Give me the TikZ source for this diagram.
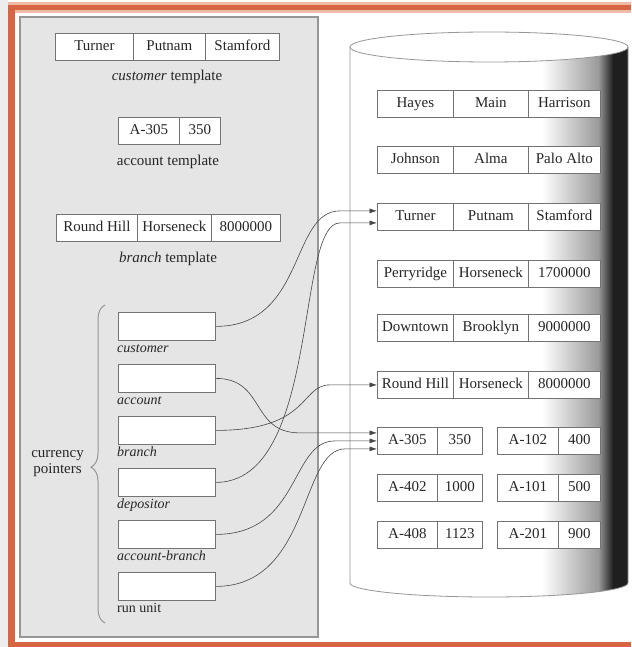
\documentclass[tikz,border=0pt]{standalone}
\usepackage{fontspec}
\setmainfont{Liberation Serif}
\usetikzlibrary{arrows.meta,calc,decorations.pathreplacing}
\definecolor{frameorange}{RGB}{214,102,66}
\definecolor{paleorange}{RGB}{238,185,165}
\definecolor{panelfill}{RGB}{229,229,229}
\definecolor{panelline}{RGB}{150,150,150}
\definecolor{cellline}{RGB}{115,115,115}
\definecolor{conncol}{RGB}{70,70,70}
\begin{document}
\begin{tikzpicture}[x=1pt,y=-1pt,
  cell/.style={draw=cellline, line width=0.8pt, fill=white, minimum height=27pt,
    inner sep=0pt, anchor=north west, text=black!85, text height=10pt, text depth=3pt,
    font=\fontsize{15}{17}\selectfont},
  ptr/.style={draw=cellline, line width=0.8pt, fill=white, minimum width=97pt,
    minimum height=28pt, inner sep=0pt, anchor=north west},
  lbl/.style={inner sep=0pt, text=black!85, text height=10pt, text depth=3pt,
    font=\fontsize{15}{17}\selectfont},
  plbl/.style={inner sep=0pt, anchor=base west, text=black!85,
    font=\fontsize{14}{16}\selectfont\itshape},
  conn/.style={draw=conncol, line width=0.6pt, -{Latex[length=7.5pt,width=5pt]}}]
\useasboundingbox (0,0) rectangle (631,647);
% background and frame
\fill[white] (0,0) rectangle (631,647);
\fill[black!7] (0,0) rectangle (8,647);
\fill[paleorange] (8,2) rectangle (631,13);
\fill[frameorange] (8,5) rectangle (631,10.5);
\fill[frameorange] (8,5) rectangle (15,647);
\fill[frameorange] (8,642) rectangle (631,647);
% left panel
\draw[panelline, line width=1.5pt, fill=panelfill] (20,17) rectangle (318,637);
% cylinder
\begin{scope}
  \clip (350,47) -- (350,583) .. controls (350,590.7) and (412.2,597) .. (489,597)
        .. controls (565.8,597) and (628,590.7) .. (628,583) -- (628,47) -- cycle;
  \fill[white] (340,30) rectangle (640,610);
  \shade[left color=white, right color=black!40] (542,30) rectangle (599,610);
  \shade[left color=black!40, right color=black!88] (598.5,30) rectangle (613,610);
  \fill[black!88] (612.5,30) rectangle (640,610);
\end{scope}
\draw[panelline, line width=0.8pt] (350,47) -- (350,583) .. controls (350,590.7) and (412.2,597) .. (489,597)
        .. controls (565.8,597) and (628,590.7) .. (628,583) -- (628,47);
\draw[panelline, line width=0.8pt, fill=white] (489,47) ellipse [x radius=139, y radius=15];
% templates
\node[cell, minimum width=78pt] (tc1) at (55,33) {Turner};
\node[cell, minimum width=72pt] (tc2) at (133,33) {Putnam};
\node[cell, minimum width=74pt] (tc3) at (205,33) {Stamford};
\node[lbl] (tcl) at (167,77) {\textit{customer} template};
\node[cell, minimum width=61pt] (ta1) at (118,117) {A-305};
\node[cell, minimum width=41pt] (ta2) at (179,117) {350};
\node[lbl] (tal) at (168,162) {account template};
\node[cell, minimum width=81pt] (tb1) at (56,214) {Round Hill};
\node[cell, minimum width=74pt] (tb2) at (137,214) {Horseneck};
\node[cell, minimum width=69pt] (tb3) at (211,214) {8000000};
\node[lbl] (tbl) at (168,259) {\textit{branch} template};
% currency pointers
\node[ptr] (pcust) at (118,312) {};
\node[plbl] (lcust) at (117,352) {customer};
\node[ptr] (pacc) at (118,364) {};
\node[plbl] (lacc) at (117,404) {account};
\node[ptr] (pbr) at (118,416) {};
\node[plbl] (lbr) at (117,456) {branch};
\node[ptr] (pdep) at (118,468) {};
\node[plbl] (ldep) at (117,508) {depositor};
\node[ptr] (pab) at (118,520) {};
\node[plbl] (lab) at (117,560) {account-branch};
\node[ptr] (pru) at (118,572) {};
\node[plbl, font=\fontsize{14}{16}\selectfont] (lru) at (117,612) {run unit};
\draw[panelline, line width=1pt, decorate, decoration={brace, amplitude=14pt, aspect=0.49}]
  (105,623) -- (105,305);
\node[lbl, align=center, anchor=east, text height=, text depth=] (cpl) at (84,464)
  {currency\\[-1pt]pointers};
% records in the database
\node[cell, minimum width=76pt] (rA1) at (377,90) {Hayes};
\node[cell, minimum width=75pt] (rA2) at (453,90) {Main};
\node[cell, minimum width=72pt] (rA3) at (528,90) {Harrison};
\node[cell, minimum width=76pt] (rB1) at (377,146) {Johnson};
\node[cell, minimum width=75pt] (rB2) at (453,146) {Alma};
\node[cell, minimum width=72pt] (rB3) at (528,146) {Palo Alto};
\node[cell, minimum width=76pt] (rC1) at (377,203) {Turner};
\node[cell, minimum width=75pt] (rC2) at (453,203) {Putnam};
\node[cell, minimum width=72pt] (rC3) at (528,203) {Stamford};
\node[cell, minimum width=76pt] (rD1) at (377,260) {Perryridge};
\node[cell, minimum width=75pt] (rD2) at (453,260) {Horseneck};
\node[cell, minimum width=72pt] (rD3) at (528,260) {1700000};
\node[cell, minimum width=76pt] (rE1) at (377,314) {Downtown};
\node[cell, minimum width=75pt] (rE2) at (453,314) {Brooklyn};
\node[cell, minimum width=72pt] (rE3) at (528,314) {9000000};
\node[cell, minimum width=76pt] (rF1) at (377,371) {Round Hill};
\node[cell, minimum width=75pt] (rF2) at (453,371) {Horseneck};
\node[cell, minimum width=72pt] (rF3) at (528,371) {8000000};
\node[cell, minimum width=60pt] (a1) at (377,427) {A-305};
\node[cell, minimum width=45pt] (a2) at (437,427) {350};
\node[cell, minimum width=61pt] (a3) at (497,427) {A-102};
\node[cell, minimum width=42pt] (a4) at (558,427) {400};
\node[cell, minimum width=60pt] (a5) at (377,474) {A-402};
\node[cell, minimum width=45pt] (a6) at (437,474) {1000};
\node[cell, minimum width=61pt] (a7) at (497,474) {A-101};
\node[cell, minimum width=42pt] (a8) at (558,474) {500};
\node[cell, minimum width=60pt] (a9) at (377,521) {A-408};
\node[cell, minimum width=45pt] (a10) at (437,521) {1123};
\node[cell, minimum width=61pt] (a11) at (497,521) {A-201};
\node[cell, minimum width=42pt] (a12) at (558,521) {900};
% connectors
\draw[conn] (pcust.east) .. controls +(90,0) and +(-50,0) .. ([xshift=-37pt,yshift=6pt]rC1.west) -- ([yshift=6pt]rC1.west);
\draw[conn] (pdep.east) .. controls +(105,0) and +(-45,0) .. ([xshift=-37pt,yshift=-6pt]rC1.west) -- ([yshift=-6pt]rC1.west);
\draw[conn] (pacc.east) .. controls +(50,0) and +(-50,0) .. ([xshift=-77pt,yshift=8pt]a1.west) -- ([yshift=8pt]a1.west);
\draw[conn] (pbr.east) .. controls +(95,0) and +(-30,0) .. ([xshift=-47pt]rF1.west) -- (rF1.west);
\draw[conn] (pab.east) .. controls +(85,0) and +(-45,0) .. ([xshift=-42pt]a1.west) -- (a1.west);
\draw[conn] (pru.east) .. controls +(95,0) and +(-45,0) .. ([xshift=-32pt,yshift=-8pt]a1.west) -- ([yshift=-8pt]a1.west);
\end{tikzpicture}
\end{document}
